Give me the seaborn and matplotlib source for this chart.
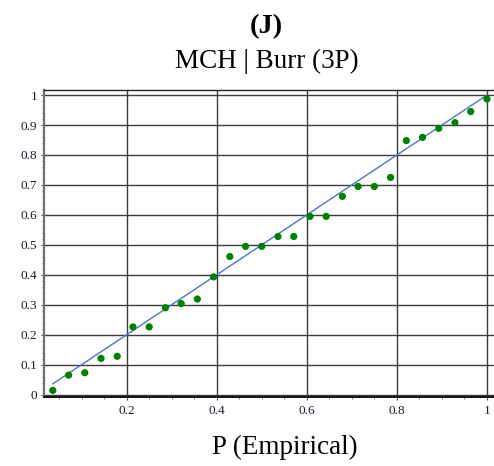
import matplotlib
matplotlib.use("Agg")
import matplotlib.pyplot as plt
from matplotlib.ticker import MultipleLocator, FixedLocator
import seaborn as sns
import pandas as pd

# Empirical vs. fitted cumulative probabilities (Burr 3P fit of MCH)
p_empirical = [0.036, 0.071, 0.107, 0.143, 0.179, 0.214, 0.250, 0.286, 0.321, 0.357,
               0.393, 0.429, 0.464, 0.500, 0.536, 0.571, 0.607, 0.643, 0.679, 0.714,
               0.750, 0.786, 0.821, 0.857, 0.893, 0.929, 0.964, 1.000]
p_theoretical = [0.014, 0.065, 0.073, 0.121, 0.128, 0.226, 0.226, 0.290, 0.304, 0.319,
                 0.393, 0.461, 0.495, 0.495, 0.528, 0.528, 0.595, 0.595, 0.662, 0.695,
                 0.695, 0.725, 0.848, 0.859, 0.889, 0.908, 0.945, 0.987]
x_ticks = [0.2, 0.4, 0.6, 0.8, 1.0]
x_tick_labels = ["0.2", "0.4", "0.6", "0.8", "1"]
y_ticks = [0.0, 0.1, 0.2, 0.3, 0.4, 0.5, 0.6, 0.7, 0.8, 0.9, 1.0]
y_tick_labels = ["0", "0.1", "0.2", "0.3", "0.4", "0.5", "0.6", "0.7", "0.8", "0.9", "1"]

points = pd.DataFrame({"emp": p_empirical, "fit": p_theoretical})
diag = pd.DataFrame({"emp": [p_empirical[0], p_empirical[-1]],
                     "fit": [p_empirical[0], p_empirical[-1]]})

sns.set_theme(style="white")
plt.rcParams["font.family"] = ["Liberation Serif", "DejaVu Serif"]

fig = plt.figure(figsize=(4.94, 4.66), dpi=100)
W, H = 494, 466
ax = fig.add_axes([44 / W, 1 - 397 / H, (494 - 44) / W, (397 - 90) / H])

ax.set_xlim(0.0164, 1.0157)
ax.set_ylim(-0.008, 1.017)

ax.grid(True, which="major", color="#3c3c3c", linewidth=1.0)
ax.set_axisbelow(True)

sns.lineplot(data=diag, x="emp", y="fit", ax=ax, color="#4a76c6", linewidth=1.0, zorder=3)
sns.scatterplot(data=points, x="emp", y="fit", ax=ax, color="#008000", s=27,
                edgecolor="none", zorder=4)

ax.xaxis.set_major_locator(FixedLocator(x_ticks))
ax.set_xticklabels(x_tick_labels)
ax.yaxis.set_major_locator(FixedLocator(y_ticks))
ax.set_yticklabels(y_tick_labels)
ax.xaxis.set_minor_locator(MultipleLocator(0.05))
ax.yaxis.set_minor_locator(MultipleLocator(0.02))

ax.tick_params(axis="both", which="major", direction="out", length=2.5, width=0.8,
               color="#555555", labelsize=9.5, labelcolor="#1c1c30")
ax.tick_params(axis="x", which="major", pad=3.5)
ax.tick_params(axis="y", which="major", pad=2.5)
ax.tick_params(axis="both", which="minor", direction="out", length=1.6, width=0.7,
               color="#777777")
ax.tick_params(left=True, bottom=True, which="both")

for side in ["left", "bottom", "top", "right"]:
    ax.spines[side].set_visible(True)
ax.spines["left"].set_color("#707070")
ax.spines["left"].set_linewidth(1.6)
ax.spines["bottom"].set_color("#111111")
ax.spines["bottom"].set_linewidth(1.4)
ax.spines["top"].set_color("#222222")
ax.spines["top"].set_linewidth(1.0)
ax.spines["right"].set_visible(False)

ax.set_xlabel("")
ax.set_ylabel("")

fig.text(266.5 / W, 1 - 33.5 / H, "(J)", ha="center", va="baseline",
         fontsize=20.5, fontweight="bold", color="black")
fig.text(266.5 / W, 1 - 68.5 / H, "MCH | Burr (3P)", ha="center", va="baseline",
         fontsize=19.5, color="black")
fig.text(285 / W, 1 - 454 / H, "P (Empirical)", ha="center", va="baseline",
         fontsize=19.5, color="black")

fig.savefig("out.png", dpi=100, facecolor="white")
